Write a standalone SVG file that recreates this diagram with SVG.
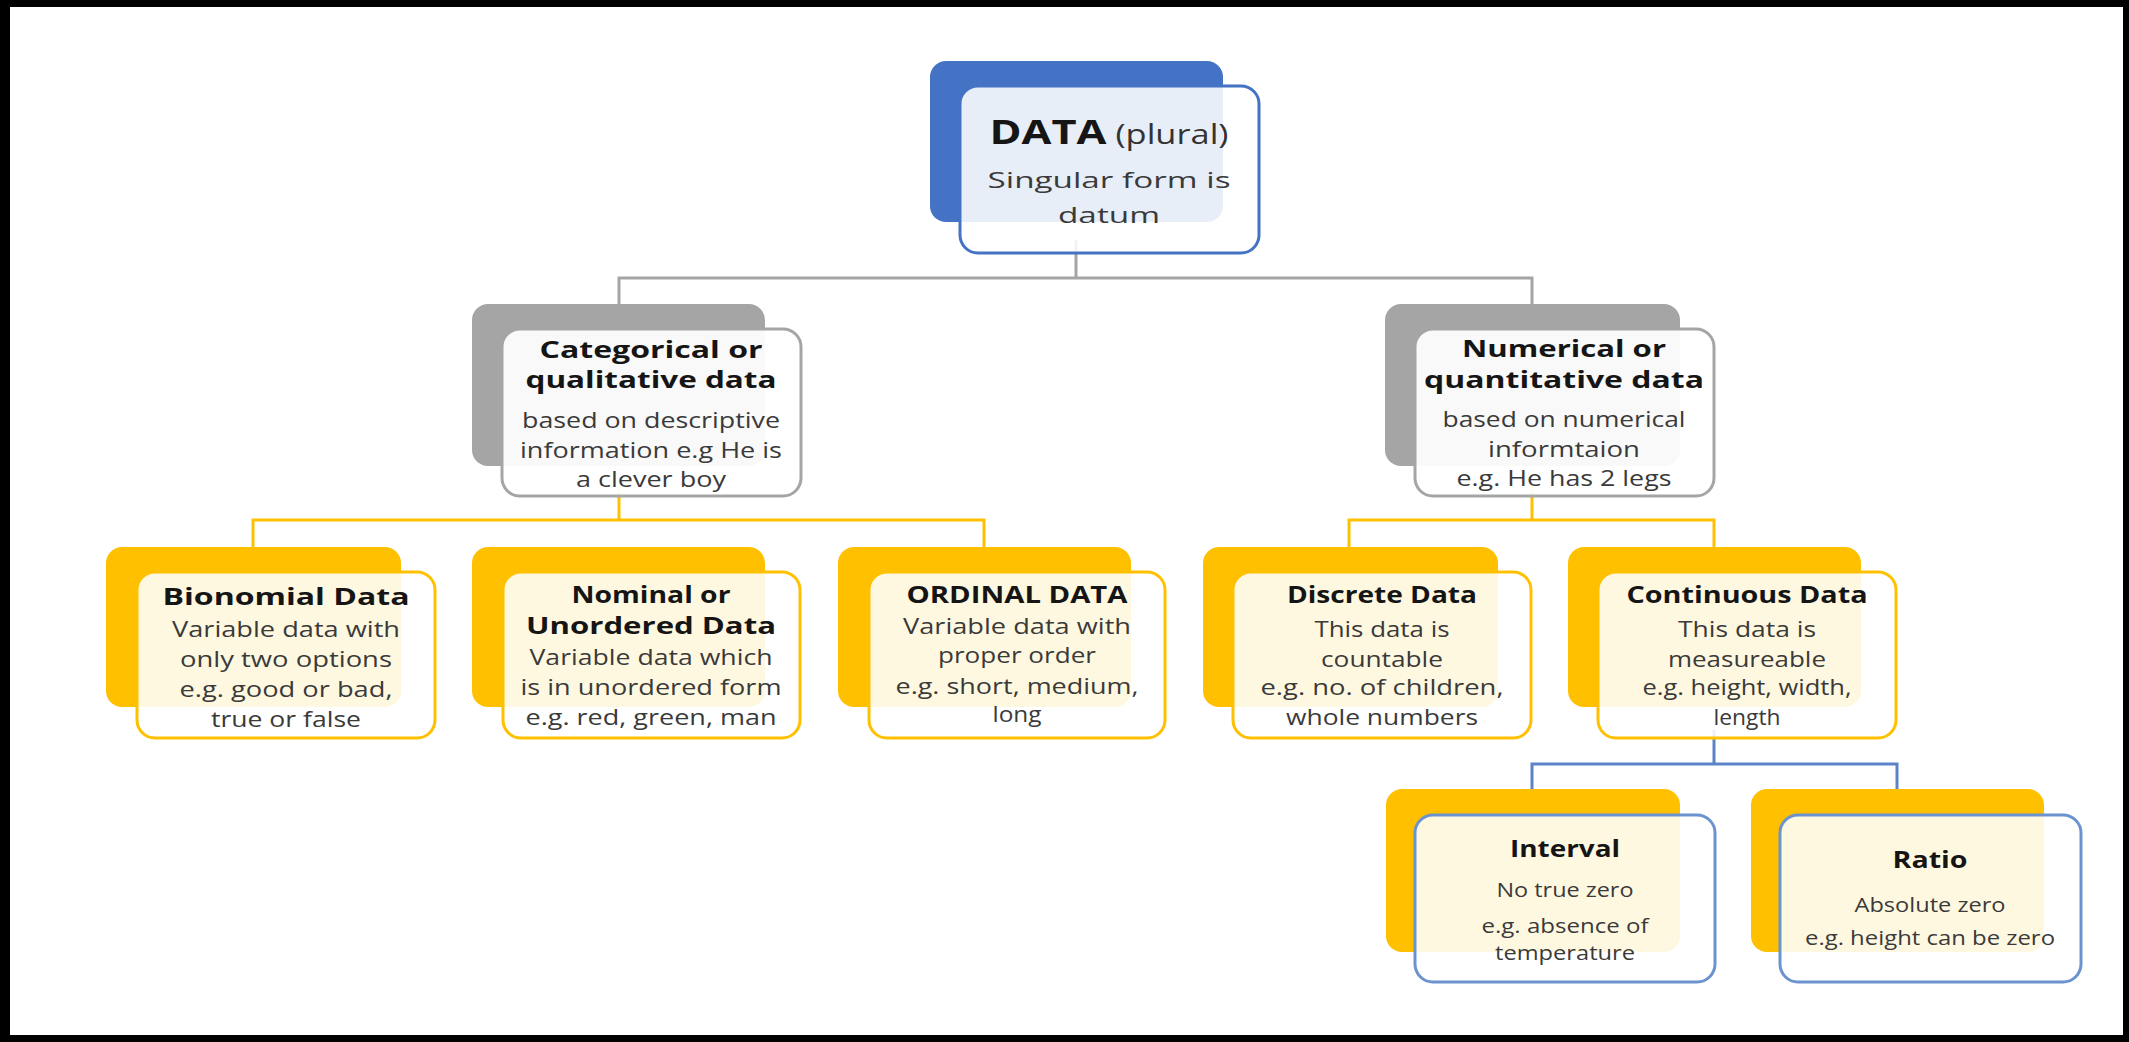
<svg xmlns="http://www.w3.org/2000/svg" width="2129" height="1042" viewBox="0 0 2129 1042">
<style>
text { font-family: "Open Sans", "Noto Sans", "Liberation Sans", sans-serif; text-anchor: middle; }
.t { font-weight: 700; fill: #151515; font-size: 24px; }
.b { font-weight: 400; fill: #3a3a3a; font-size: 21.5px; }
.s { font-size: 20px; }
.front { fill: #ffffff; fill-opacity: 0.88; stroke-width: 3; }
.fg { fill-opacity: 0.93; }
.bk-blue { fill: #4472C4; }
.bk-gray { fill: #A5A5A5; }
.bk-yel { fill: #FFC000; }
.fr-blue { stroke: #4472C4; }
.fr-gray { stroke: #A5A5A5; }
.fr-yel { stroke: #FFC000; }
.fr-lblue { stroke: #6B93CF; }
.conn { fill: none; stroke-width: 3; }
</style>
<rect x="0" y="0" width="2129" height="1042" fill="#000"/>
<rect x="10" y="7" width="2113" height="1028" fill="#fff"/>

<g id="connectors">
  <path class="conn" stroke="#A5A5A5" d="M1076,240 V278 M619,304 V278 H1532 V304"/>
  <path class="conn" stroke="#FFC000" d="M619,488 V520 M253,547 V520 H984 V547"/>
  <path class="conn" stroke="#FFC000" d="M1532,485 V520 M1349,547 V520 H1714 V547"/>
  <path class="conn" stroke="#5B83C8" d="M1714,730 V764 M1532,789 V764 H1897 V789"/>
</g>

<g id="node-data">
  <rect class="bk-blue" x="930" y="61" width="293" height="161" rx="16"/>
  <rect class="front fr-blue" x="960" y="86" width="299" height="167" rx="18"/>
  <text x="1109" y="144" textLength="239" lengthAdjust="spacingAndGlyphs"><tspan font-weight="700" fill="#151515" font-size="34">DATA</tspan><tspan fill="#333" font-size="27"> (plural)</tspan></text>
  <text class="b" x="1109" y="188" font-size="28" fill="#333" textLength="243" lengthAdjust="spacingAndGlyphs">Singular form is</text>
  <text class="b" x="1109" y="223" font-size="28" fill="#333" textLength="102" lengthAdjust="spacingAndGlyphs">datum</text>
</g>

<g id="node-categorical">
  <rect class="bk-gray" x="472" y="304" width="293" height="162" rx="16"/>
  <rect class="front fg fr-gray" x="502" y="329" width="299" height="167" rx="18"/>
  <text class="t" x="651" y="358" textLength="223" lengthAdjust="spacingAndGlyphs">Categorical or</text>
  <text class="t" x="651" y="388" textLength="251" lengthAdjust="spacingAndGlyphs">qualitative data</text>
  <text class="b" x="651" y="428" textLength="258" lengthAdjust="spacingAndGlyphs">based on descriptive</text>
  <text class="b" x="651" y="458" textLength="262" lengthAdjust="spacingAndGlyphs">information e.g He is</text>
  <text class="b" x="651" y="487" textLength="150" lengthAdjust="spacingAndGlyphs">a clever boy</text>
</g>

<g id="node-numerical">
  <rect class="bk-gray" x="1385" y="304" width="295" height="162" rx="16"/>
  <rect class="front fg fr-gray" x="1415" y="329" width="299" height="167" rx="18"/>
  <text class="t" x="1564" y="357" textLength="204" lengthAdjust="spacingAndGlyphs">Numerical or</text>
  <text class="t" x="1564" y="388" textLength="280" lengthAdjust="spacingAndGlyphs">quantitative data</text>
  <text class="b" x="1564" y="427" textLength="243" lengthAdjust="spacingAndGlyphs">based on numerical</text>
  <text class="b" x="1564" y="457" textLength="152" lengthAdjust="spacingAndGlyphs">informtaion</text>
  <text class="b" x="1564" y="486" textLength="215" lengthAdjust="spacingAndGlyphs">e.g. He has 2 legs</text>
</g>

<g id="node-bionomial">
  <rect class="bk-yel" x="106" y="547" width="295" height="160" rx="16"/>
  <rect class="front fr-yel" x="137" y="572" width="298" height="166" rx="18"/>
  <text class="t" x="286" y="605" textLength="247" lengthAdjust="spacingAndGlyphs">Bionomial Data</text>
  <text class="b" x="286" y="637" textLength="228" lengthAdjust="spacingAndGlyphs">Variable data with</text>
  <text class="b" x="286" y="667" textLength="212" lengthAdjust="spacingAndGlyphs">only two options</text>
  <text class="b" x="286" y="697" textLength="213" lengthAdjust="spacingAndGlyphs">e.g. good or bad,</text>
  <text class="b" x="286" y="727" textLength="150" lengthAdjust="spacingAndGlyphs">true or false</text>
</g>

<g id="node-nominal">
  <rect class="bk-yel" x="472" y="547" width="293" height="160" rx="16"/>
  <rect class="front fr-yel" x="503" y="572" width="297" height="166" rx="18"/>
  <text class="t" x="651" y="603" textLength="159" lengthAdjust="spacingAndGlyphs">Nominal or</text>
  <text class="t" x="651" y="634" textLength="250" lengthAdjust="spacingAndGlyphs">Unordered Data</text>
  <text class="b" x="651" y="665" textLength="243" lengthAdjust="spacingAndGlyphs">Variable data which</text>
  <text class="b" x="651" y="695" textLength="261" lengthAdjust="spacingAndGlyphs">is in unordered form</text>
  <text class="b" x="651" y="725" textLength="251" lengthAdjust="spacingAndGlyphs">e.g. red, green, man</text>
</g>

<g id="node-ordinal">
  <rect class="bk-yel" x="838" y="547" width="293" height="160" rx="16"/>
  <rect class="front fr-yel" x="869" y="572" width="296" height="166" rx="18"/>
  <text class="t" x="1017" y="603" textLength="221" lengthAdjust="spacingAndGlyphs">ORDINAL DATA</text>
  <text class="b" x="1017" y="634" textLength="228" lengthAdjust="spacingAndGlyphs">Variable data with</text>
  <text class="b" x="1017" y="663" textLength="158" lengthAdjust="spacingAndGlyphs">proper order</text>
  <text class="b" x="1017" y="694" textLength="243" lengthAdjust="spacingAndGlyphs">e.g. short, medium,</text>
  <text class="b" x="1017" y="722" textLength="49" lengthAdjust="spacingAndGlyphs">long</text>
</g>

<g id="node-discrete">
  <rect class="bk-yel" x="1203" y="547" width="295" height="160" rx="16"/>
  <rect class="front fr-yel" x="1233" y="572" width="298" height="166" rx="18"/>
  <text class="t" x="1382" y="603" textLength="190" lengthAdjust="spacingAndGlyphs">Discrete Data</text>
  <text class="b" x="1382" y="637" textLength="135" lengthAdjust="spacingAndGlyphs">This data is</text>
  <text class="b" x="1382" y="667" textLength="122" lengthAdjust="spacingAndGlyphs">countable</text>
  <text class="b" x="1382" y="695" textLength="243" lengthAdjust="spacingAndGlyphs">e.g. no. of children,</text>
  <text class="b" x="1382" y="725" textLength="192" lengthAdjust="spacingAndGlyphs">whole numbers</text>
</g>

<g id="node-continuous">
  <rect class="bk-yel" x="1568" y="547" width="293" height="160" rx="16"/>
  <rect class="front fr-yel" x="1598" y="572" width="298" height="166" rx="18"/>
  <text class="t" x="1747" y="603" textLength="241" lengthAdjust="spacingAndGlyphs">Continuous Data</text>
  <text class="b" x="1747" y="637" textLength="138" lengthAdjust="spacingAndGlyphs">This data is</text>
  <text class="b" x="1747" y="667" textLength="158" lengthAdjust="spacingAndGlyphs">measureable</text>
  <text class="b" x="1747" y="695" textLength="209" lengthAdjust="spacingAndGlyphs">e.g. height, width,</text>
  <text class="b" x="1747" y="725" textLength="67" lengthAdjust="spacingAndGlyphs">length</text>
</g>

<g id="node-interval">
  <rect class="bk-yel" x="1386" y="789" width="294" height="163" rx="16"/>
  <rect class="front fr-lblue" x="1415" y="815" width="300" height="167" rx="18"/>
  <text class="t" x="1565" y="857" font-size="23" textLength="110" lengthAdjust="spacingAndGlyphs">Interval</text>
  <text class="b s" x="1565" y="897" textLength="137" lengthAdjust="spacingAndGlyphs">No true zero</text>
  <text class="b s" x="1565" y="933" textLength="167" lengthAdjust="spacingAndGlyphs">e.g. absence of</text>
  <text class="b s" x="1565" y="960" textLength="140" lengthAdjust="spacingAndGlyphs">temperature</text>
</g>

<g id="node-ratio">
  <rect class="bk-yel" x="1751" y="789" width="293" height="163" rx="16"/>
  <rect class="front fr-lblue" x="1780" y="815" width="301" height="167" rx="18"/>
  <text class="t" x="1930" y="868" font-size="23" textLength="75" lengthAdjust="spacingAndGlyphs">Ratio</text>
  <text class="b s" x="1930" y="912" textLength="151" lengthAdjust="spacingAndGlyphs">Absolute zero</text>
  <text class="b s" x="1930" y="945" textLength="250" lengthAdjust="spacingAndGlyphs">e.g. height can be zero</text>
</g>
</svg>
